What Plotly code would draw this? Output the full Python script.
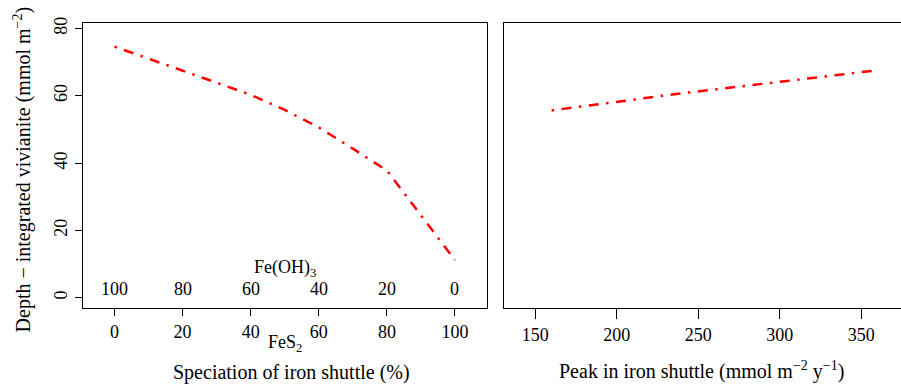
import plotly.graph_objects as go

# Left panel data: speciation of iron shuttle (% FeS2) vs depth-integrated vivianite
fes2_pct = [0, 10, 20, 30, 40, 50, 60, 70, 80, 90, 100]
vivianite_spec = [74.6, 71.0, 67.4, 64.0, 60.3, 55.8, 50.6, 44.3, 37.8, 24.5, 11.2]

# Right panel data: peak in iron shuttle vs depth-integrated vivianite
peak_shuttle = [160, 200, 240, 280, 320, 360]
vivianite_peak = [55.65, 58.15, 60.75, 63.0, 65.3, 67.6]

x_ticks_left = [0, 20, 40, 60, 80, 100]
feoh3_labels = ["100", "80", "60", "40", "20", "0"]
x_ticks_right = [150, 200, 250, 300, 350]
y_ticks = [0, 20, 40, 60, 80]

FONT = "Liberation Serif, Times New Roman, serif"
FS = 18
FS_TITLE = 20
W, H = 901, 387

def px_x(p):
    return p / W

def px_y(p):
    return 1 - p / H

fig = go.Figure()

line_style = dict(color="red", width=2.5, dash="2.5px,7.5px,10px,7.5px")

fig.add_trace(go.Scatter(x=fes2_pct, y=vivianite_spec, mode="lines", line=line_style,
                         xaxis="x", yaxis="y", showlegend=False, hoverinfo="skip"))
fig.add_trace(go.Scatter(x=peak_shuttle, y=vivianite_peak, mode="lines", line=line_style,
                         xaxis="x2", yaxis="y2", showlegend=False, hoverinfo="skip"))

yrange = [-3.1, 81.7]
xl_range = [-9.4, 109.4]
xr_range = [130.8, 374.4]

dom_y = [px_y(307), px_y(17)]
dom_xl = [px_x(82.5), px_x(487)]
dom_xr = [px_x(504), 1.0]

tfont = dict(family=FONT, size=FS, color="black")
ttfont = dict(family=FONT, size=FS_TITLE, color="black")
axis_common = dict(showgrid=False, zeroline=False, linecolor="black", linewidth=1,
                   tickcolor="black", tickwidth=1, tickfont=tfont)

fig.update_layout(
    width=W, height=H,
    margin=dict(l=0, r=0, t=0, b=0),
    paper_bgcolor="white", plot_bgcolor="white",
    font=tfont,
    xaxis=dict(domain=dom_xl, range=xl_range, anchor="y", showline=True, mirror=True,
               ticks="outside", ticklen=7, tickvals=x_ticks_left,
               ticktext=[str(v) for v in x_ticks_left], **axis_common),
    xaxis3=dict(domain=dom_xl, range=xl_range, overlaying="x", anchor="y", side="bottom",
                showline=False, ticks="inside", ticklen=4, tickvals=x_ticks_left,
                showticklabels=False, **axis_common),
    yaxis=dict(domain=dom_y, range=yrange, anchor="x", showline=True, mirror=True,
               ticks="outside", ticklen=7, tickvals=y_ticks, tickangle=-90,
               ticktext=[str(v) for v in y_ticks], **axis_common),
    xaxis2=dict(domain=dom_xr, range=xr_range, anchor="y2", showline=True, mirror=True,
                ticks="outside", ticklen=10, tickvals=x_ticks_right,
                ticktext=[str(v) for v in x_ticks_right], **axis_common),
    yaxis2=dict(domain=dom_y, range=yrange, anchor="x2", showline=True, mirror=False,
                ticks="", showticklabels=False, **axis_common),
)

annotations = []
# inner Fe(OH)3 scale labels
for xv, lab in zip(x_ticks_left, feoh3_labels):
    annotations.append(dict(x=xv, y=2.5, xref="x", yref="y", text=lab, showarrow=False,
                            xanchor="center", yanchor="middle", font=tfont))
annotations.append(dict(x=50, y=8.6, xref="x", yref="y", text="Fe(OH)<sub>3</sub>",
                        showarrow=False, xanchor="center", yanchor="middle", font=tfont))
annotations.append(dict(x=50, y=px_y(343), xref="x", yref="paper", text="FeS<sub>2</sub>",
                        showarrow=False, xanchor="center", yanchor="middle", font=tfont))
annotations.append(dict(x=px_x(291), y=px_y(372), xref="paper", yref="paper",
                        text="Speciation of iron shuttle (%)", showarrow=False,
                        xanchor="center", yanchor="middle", font=ttfont))
annotations.append(dict(x=px_x(701), y=px_y(370), xref="paper", yref="paper",
                        text="Peak in iron shuttle (mmol m<sup>−2</sup> y<sup>−1</sup>)",
                        showarrow=False, xanchor="center", yanchor="middle", font=ttfont))
annotations.append(dict(x=px_x(22), y=px_y(166), xref="paper", yref="paper",
                        text="Depth − integrated vivianite (mmol m<sup>−2</sup>)",
                        showarrow=False, textangle=-90, xanchor="center", yanchor="middle",
                        font=ttfont))
fig.update_layout(annotations=annotations)

fig.write_html("out.html", config={"displayModeBar": False},
               post_script="document.body.style.margin='0';")
